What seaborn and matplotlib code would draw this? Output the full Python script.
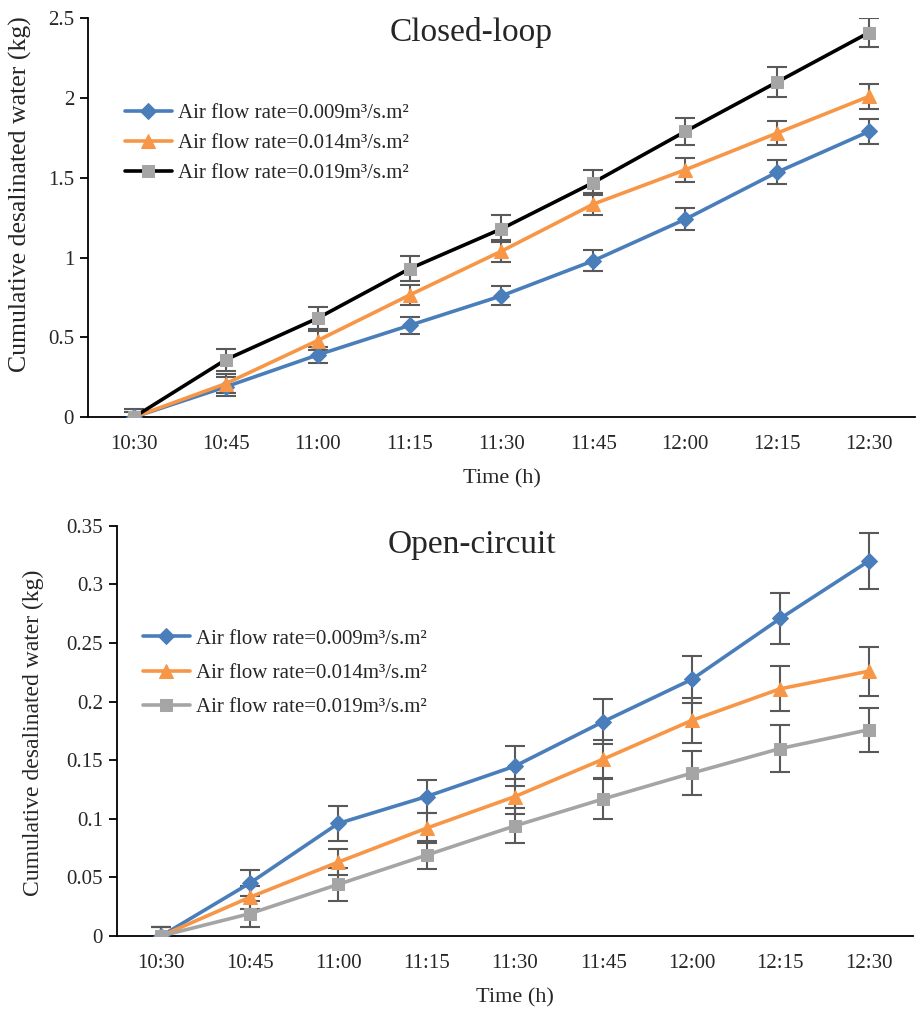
import matplotlib
matplotlib.use("Agg")
import matplotlib.pyplot as plt
import seaborn as sns
import numpy as np

times = ["10:30", "10:45", "11:00", "11:15", "11:30", "11:45", "12:00", "12:15", "12:30"]
labels = ["Air flow rate=0.009m³/s.m²", "Air flow rate=0.014m³/s.m²", "Air flow rate=0.019m³/s.m²"]

# closed-loop
closed_009 = [0, 0.19, 0.39, 0.575, 0.76, 0.98, 1.24, 1.535, 1.79]
closed_014 = [0, 0.21, 0.48, 0.765, 1.04, 1.335, 1.55, 1.78, 2.01]
closed_019 = [0, 0.36, 0.62, 0.93, 1.18, 1.47, 1.79, 2.10, 2.41]
closed_err_009 = [0.03, 0.06, 0.05, 0.055, 0.06, 0.065, 0.07, 0.075, 0.078]
closed_err_014 = [0.03, 0.06, 0.06, 0.065, 0.07, 0.07, 0.075, 0.075, 0.08]
closed_err_019 = [0.05, 0.07, 0.07, 0.08, 0.085, 0.08, 0.085, 0.095, 0.09]

# open-circuit
open_009 = [0, 0.045, 0.096, 0.119, 0.145, 0.183, 0.219, 0.271, 0.320]
open_014 = [0, 0.033, 0.063, 0.092, 0.119, 0.151, 0.184, 0.211, 0.226]
open_019 = [0, 0.019, 0.044, 0.069, 0.094, 0.117, 0.139, 0.160, 0.176]
open_err_009 = [0.008, 0.011, 0.015, 0.014, 0.017, 0.019, 0.020, 0.022, 0.024]
open_err_014 = [0.008, 0.010, 0.011, 0.013, 0.015, 0.016, 0.019, 0.019, 0.021]
open_err_019 = [0.008, 0.011, 0.014, 0.012, 0.015, 0.017, 0.019, 0.020, 0.019]

blue = "#4A7EBB"
orange = "#F79646"
grey = "#A5A5A5"
errc = "#595959"

sns.set_style("white")
plt.rcParams['font.family'] = ['Liberation Serif', 'DejaVu Serif']

fig = plt.figure(figsize=(9.22, 10.10), dpi=100)
ax1 = fig.add_axes([0.0954, 0.587, 0.897, 0.395])
ax2 = fig.add_axes([0.1269, 0.0733, 0.8633, 0.406])


def fmt(v):
    return f"{v:.2f}".rstrip("0").rstrip(".")


def draw(ax, series, errs, styles, title, ymax, ystep, cfg):
    for vals, err in zip(series, errs):
        ax.errorbar(times, vals, yerr=err, fmt="none", ecolor=errc, elinewidth=1.5,
                    capsize=7, capthick=1.5, zorder=2)
    for vals, lab, (lc, mc, mk, ms) in zip(series, labels, styles):
        sns.lineplot(x=times, y=vals, ax=ax, color=lc, marker=mk, markersize=ms,
                     markerfacecolor=mc, markeredgecolor=mc, linewidth=2.6,
                     label=lab, sort=False, zorder=3)
    ax.set_xlim(-0.5, 8.5)
    ax.set_ylim(0, ymax)
    yt = np.arange(0, ymax + ystep / 2, ystep)
    ax.set_yticks(yt)
    ax.set_yticklabels([fmt(v) for v in yt])
    ax.set_xticks(range(len(times)))
    ax.set_xticklabels(times)
    ax.set_xticks(np.arange(-0.5, 9, 1), minor=True)
    ax.tick_params(axis="x", which="major", length=0, labelsize=15, pad=13)
    ax.tick_params(axis="x", which="minor", length=6, width=1.3, direction="out", color="black")
    ax.tick_params(axis="y", length=6, width=1.3, direction="out", color="black",
                   labelsize=15, left=True, pad=4)
    for s in ["top", "right"]:
        ax.spines[s].set_visible(False)
    for s in ["left", "bottom"]:
        ax.spines[s].set_color("black")
        ax.spines[s].set_linewidth(1.3)
    ax.set_xlabel("Time (h)", fontsize=16, va="top")
    ax.xaxis.set_label_coords(0.5, cfg["xlab_y"])
    ax.set_ylabel("Cumulative desalinated water (kg)", fontsize=cfg["ylab_fs"], va="center")
    ax.yaxis.set_label_coords(cfg["ylab_x"], cfg["ylab_y"])
    ax.text(cfg["title_x"], cfg["title_y"], title, transform=ax.transAxes,
            ha="center", va="center", fontsize=24)
    ax.legend(loc="center left", bbox_to_anchor=(cfg["leg_x"], cfg["leg_y"]), frameon=False,
              fontsize=15, handlelength=2.25, handletextpad=0.3,
              labelspacing=cfg["leg_sp"], borderaxespad=0, borderpad=0)


draw(ax1, [closed_009, closed_014, closed_019],
     [closed_err_009, closed_err_014, closed_err_019],
     [(blue, blue, "D", 8), (orange, orange, "^", 10), ("black", grey, "s", 9)],
     "Closed-loop", 2.5, 0.5,
     dict(xlab_y=-0.13, ylab_fs=18.5, ylab_x=-0.082, ylab_y=0.559,
          title_x=0.463, title_y=0.965, leg_x=0.0447, leg_y=0.687, leg_sp=0.5))
draw(ax2, [open_009, open_014, open_019],
     [open_err_009, open_err_014, open_err_019],
     [(blue, blue, "D", 8), (orange, orange, "^", 10), (grey, grey, "s", 9)],
     "Open-circuit", 0.35, 0.05,
     dict(xlab_y=-0.128, ylab_fs=17, ylab_x=-0.1055, ylab_y=0.495,
          title_x=0.446, title_y=0.954, leg_x=0.0327, leg_y=0.641, leg_sp=0.7))

fig.savefig("out.png", dpi=100)
